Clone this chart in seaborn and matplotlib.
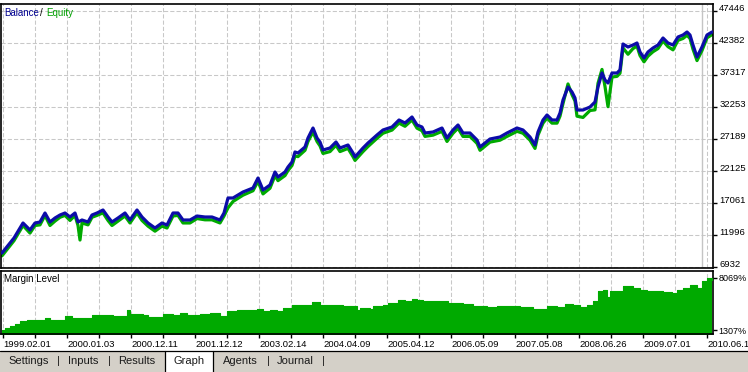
import matplotlib
matplotlib.use("Agg")
import numpy as np
import pandas as pd
import matplotlib.pyplot as plt
import seaborn as sns
from matplotlib.patches import Rectangle
from matplotlib.lines import Line2D

# ---------------- data ----------------
deal_pos = [2, 6, 10, 14, 17, 20, 23, 27, 30, 35,
            40, 45, 50, 55, 60, 65, 70, 75, 78, 80,
            82, 88, 92, 97, 103, 108, 112, 118, 125, 130,
            137, 142, 148, 155, 162, 167, 173, 178, 183, 190,
            197, 205, 212, 220, 224, 228, 233, 243, 253, 258,
            263, 270, 275, 278, 285, 288, 292, 295, 298, 305,
            308, 313, 317, 320, 323, 330, 336, 340, 348, 353,
            355, 363, 368, 377, 383, 392, 399, 405, 412, 417,
            422, 425, 433, 442, 447, 453, 458, 463, 470, 477,
            480, 490, 500, 507, 517, 523, 530, 535, 538, 543,
            547, 552, 557, 560, 563, 568, 572, 575, 577, 583,
            590, 595, 598, 602, 605, 608, 612, 617, 620, 623,
            628, 633, 637, 640, 644, 648, 653, 658, 663, 668,
            673, 678, 683, 687, 690, 693, 697, 702, 707, 712]

balance = [9148, 9939, 10730, 11522, 12313, 13104, 13895, 13262, 12788, 13895,
           14054, 15478, 14054, 14687, 15162, 15478, 14845, 15478, 14054, 14200,
           14370, 14054, 15162, 15478, 15953, 14845, 14054, 14687, 15478, 14370,
           15953, 14845, 13895, 13104, 13895, 13579, 15478, 15478, 14370, 14370,
           15003, 14845, 14845, 14370, 15478, 17852, 17852, 18802, 19435, 21017,
           19118, 19909, 21967, 21175, 21967, 22758, 23549, 25132, 24974, 25923,
           27348, 28930, 27348, 26715, 25448, 25765, 26715, 25765, 26240, 24974,
           24341, 25765, 26556, 27822, 28614, 29088, 30196, 29721, 30671, 29405,
           29088, 28139, 28297, 28930, 27348, 28614, 29405, 28139, 28139, 27031,
           25923, 27189, 27506, 28139, 28930, 28614, 27506, 26240, 28297, 30196,
           30988, 30196, 30196, 31304, 33361, 35419, 34628, 33678, 31779, 31779,
           32254, 33045, 35419, 37634, 36527, 36052, 37634, 37634, 38109, 42224,
           41749, 42066, 42382, 40958, 40008, 40958, 41591, 42066, 43174, 42382,
           42066, 43332, 43648, 44123, 43648, 42066, 40167, 41749, 43648, 44123]

equity = [8700, 9500, 10300, 11100, 11900, 12700, 13500, 12800, 12300, 13500,
          13600, 15100, 13500, 14200, 14800, 15100, 14300, 15100, 13500, 11200,
          13900, 13600, 14800, 15100, 15500, 14300, 13500, 14200, 15000, 13900,
          15500, 14300, 13400, 12600, 13400, 13100, 15000, 15100, 13900, 13900,
          14600, 14400, 14400, 13900, 15000, 16300, 17300, 18300, 19000, 20500,
          18500, 19400, 21400, 20600, 21400, 22200, 23000, 24500, 24400, 25400,
          26800, 28300, 26800, 26100, 24900, 25200, 26200, 25200, 25700, 24400,
          23800, 25200, 26000, 27300, 28100, 28600, 29700, 29200, 30200, 28900,
          28500, 27600, 27800, 28400, 26800, 28100, 28900, 27600, 27600, 26500,
          25400, 26700, 27000, 27600, 28400, 28100, 27000, 25700, 27800, 29700,
          30500, 29700, 29700, 30800, 32800, 35900, 34200, 33200, 30800, 30600,
          31700, 31800, 36000, 38200, 35500, 32300, 37000, 37100, 37600, 41600,
          40600, 41500, 41900, 40400, 39400, 40300, 41000, 41500, 42700, 41800,
          41300, 42800, 43100, 43600, 43100, 41400, 39600, 41200, 43200, 43700]

margin_pos = [2, 5, 10, 15, 20, 27, 33, 45, 50, 65,
              72, 80, 92, 100, 113, 127, 130, 143, 148, 157,
              163, 173, 180, 187, 200, 210, 220, 227, 237, 247,
              257, 263, 270, 277, 283, 292, 303, 312, 320, 333,
              343, 350, 357, 360, 370, 373, 383, 388, 393, 398,
              405, 412, 417, 423, 430, 440, 448, 457, 463, 473,
              487, 497, 510, 520, 533, 547, 557, 565, 573, 580,
              587, 593, 598, 603, 607, 610, 617, 623, 633, 640,
              647, 653, 663, 672, 677, 683, 690, 697, 702, 707,
              712]

margin_level = [1307, 1567, 1827, 2087, 2477, 2607, 2607, 2867, 2607, 3127,
                2867, 2867, 3257, 3257, 3127, 3907, 3387, 3257, 2997, 2997,
                3387, 3257, 3517, 3257, 3387, 3517, 3127, 3777, 3907, 3907,
                4037, 3777, 3907, 3777, 4167, 4557, 4557, 4947, 4557, 4557,
                4427, 4427, 3907, 4167, 4037, 4427, 4557, 4817, 4817, 5207,
                5077, 5337, 5207, 5077, 5077, 5077, 4817, 4817, 4687, 4427,
                4297, 4427, 4427, 4297, 4037, 4427, 4297, 4687, 4557, 4297,
                4557, 5077, 6377, 6507, 5597, 6377, 6377, 7027, 6767, 6507,
                6377, 6377, 6247, 6117, 6507, 6767, 7157, 6767, 7677, 8069,
                7807]

balance_ticks = [6932, 11996, 17061, 22125, 27189, 32253, 37317, 42382, 47446]
margin_ticks = [1307, 8069]
date_labels = ["1999.02.01", "2000.01.03", "2000.12.11", "2001.12.12",
               "2003.02.14", "2004.04.09", "2005.04.12", "2006.05.09",
               "2007.05.08", "2008.06.26", "2009.07.01", "2010.06.1"]
tab_labels = ["Settings", "Inputs", "Results", "Graph", "Agents", "Journal"]

# ---------------- style ----------------
sns.set_theme(style="white")
plt.rcParams['font.family'] = ['Liberation Sans', 'DejaVu Sans']

BLUE = "#0c0ca8"
GREEN = "#00aa00"
GRID = "#c8c8c8"
W, H = 748, 372

def box(l, t, r, b):
    return [l / W, 1 - b / H, (r - l) / W, (b - t) / H]

fig = plt.figure(figsize=(W / 100, H / 100), dpi=100)
fig.patch.set_facecolor("white")

ax1 = fig.add_axes(box(1, 4, 713, 268))
ax2 = fig.add_axes(box(1, 271, 713, 334))

df = pd.DataFrame({"pos": deal_pos, "Balance": balance, "Equity": equity})
mdf = pd.DataFrame({"pos": margin_pos, "Margin": margin_level})

grid_x = np.arange(3, 713, 32)
dash = (0, (4, 2))

# ---- top panel ----
for x in grid_x:
    ax1.axvline(x, color=GRID, lw=0.75, ls=dash, zorder=0)
for y in balance_ticks:
    ax1.axhline(y, color=GRID, lw=0.75, ls=dash, zorder=0)
ax1.axvline(702, color="#c4c4c4", lw=1.0, zorder=0)

sns.lineplot(data=df, x="pos", y="Equity", color=GREEN, lw=2.3, ax=ax1, zorder=2)
sns.lineplot(data=df, x="pos", y="Balance", color=BLUE, lw=2.3, ax=ax1, zorder=3)

ax1.set_xlim(1, 713)
ax1.set_ylim(6774, 48554)
ax1.set_xlabel("")
ax1.set_ylabel("")
ax1.set_xticks([])
ax1.yaxis.tick_right()
ax1.set_yticks(balance_ticks)
ax1.set_yticklabels([str(v) for v in balance_ticks])
ax1.tick_params(axis="y", length=3, width=1, pad=1.5, labelsize=6.8,
                direction="out", colors="black")
for lab in ax1.get_yticklabels():
    lab.set_va("baseline")

# ---- bottom panel ----
for x in grid_x:
    ax2.axvline(x, color=GRID, lw=0.75, ls=dash, zorder=0)
ax2.fill_between(mdf["pos"], mdf["Margin"], 0, step="post", color=GREEN,
                 lw=0, zorder=2)
sns.lineplot(data=mdf, x="pos", y="Margin", color=GREEN, lw=0.8,
             drawstyle="steps-post", ax=ax2, zorder=3)
ax2.set_xlim(1, 713)
ax2.set_ylim(787, 8979)
ax2.set_xlabel("")
ax2.set_ylabel("")
ax2.set_xticks(grid_x[::2])
ax2.set_xticklabels(date_labels, ha="left")
ax2.set_xticks(grid_x[1::2], minor=True)
ax2.tick_params(axis="x", which="both", length=3, width=1, pad=1,
                labelsize=6.8, direction="out", colors="black", bottom=True)
ax2.yaxis.tick_right()
ax2.set_yticks(margin_ticks)
ax2.set_yticklabels([f"{v}%" for v in margin_ticks])
ax2.tick_params(axis="y", length=3, width=1, pad=0.8, labelsize=6.5,
                direction="out", colors="black")

for ax in (ax1, ax2):
    ax.set_facecolor("white")
    for s in ax.spines.values():
        s.set_color("black")
        s.set_linewidth(1.2)
        s.set_visible(True)

# ---- labels ----
fy = lambda y: 1 - y / H
fig.text(4 / W, fy(12.5), "Balance", color="#000090", fontsize=7, va="center")
fig.text(40 / W, fy(12.5), "/", color="black", fontsize=7, va="center")
fig.text(46 / W, fy(12.5), "Equity", color="#00a000", fontsize=7, va="center")
fig.text(4 / W, fy(279), "Margin Level", color="black", fontsize=7, va="center")

# ---- tab bar ----
fig.add_artist(Rectangle((0, 0), 1, fy(351), transform=fig.transFigure,
                         facecolor="#d4d0c8", edgecolor="none", zorder=0))
fig.add_artist(Line2D([0, 1], [fy(350.5), fy(350.5)], transform=fig.transFigure,
                      color="black", lw=0.9))
fig.add_artist(Rectangle((165 / W, 0), 48 / W, fy(351), transform=fig.transFigure,
                         facecolor="white", edgecolor="none", zorder=1))
for xx in (165, 213):
    fig.add_artist(Line2D([xx / W, xx / W], [0, fy(350.5)], transform=fig.transFigure,
                          color="black", lw=0.9, zorder=2))
tab_x = [8, 68, 118, 173, 223, 277]
for x, t in zip(tab_x, tab_labels):
    fig.text(x / W, fy(361.5), t, fontsize=8, color="#1a1a1a", va="center", zorder=3)
for x in (58, 109, 268, 323):
    fig.text(x / W, fy(361.5), "|", fontsize=8, color="#1a1a1a", va="center",
             ha="center", zorder=3)

fig.savefig("out.png", dpi=100)
